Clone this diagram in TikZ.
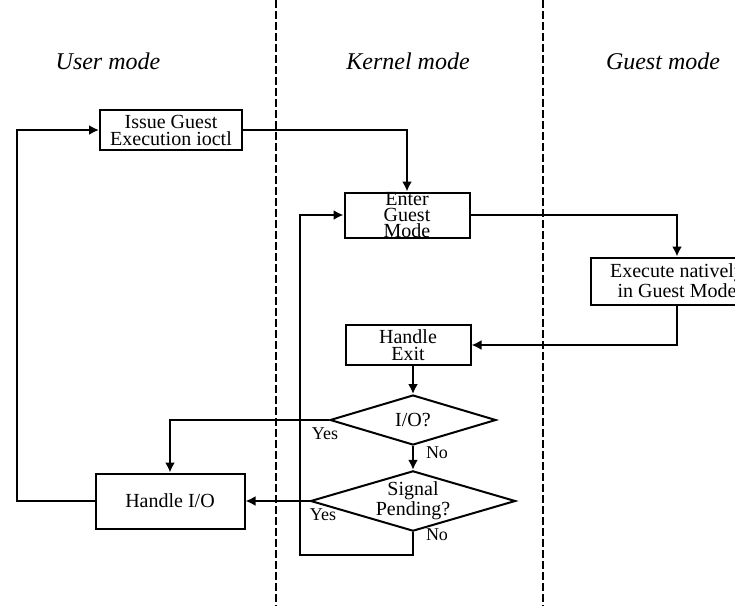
\documentclass[tikz,border=0pt]{standalone}
\usepackage{fontspec}
\setmainfont{Liberation Serif}
\usetikzlibrary{shapes.geometric,arrows.meta}
\tikzset{
  procbox/.style={draw, line width=1pt, rectangle, align=center, inner sep=0pt,
    font=\fontsize{10}{8.5}\selectfont},
  decision/.style={draw, line width=1pt, diamond, aspect=3.4, align=center, inner sep=0pt,
    font=\fontsize{10}{8}\selectfont},
  flow/.style={line width=1pt, -{Latex[length=5pt,width=5pt]}},
  modename/.style={font=\fontsize{12}{12}\selectfont\itshape},
  answer/.style={font=\fontsize{9}{9}\selectfont}
}
\begin{document}
\begin{tikzpicture}[x=0.5pt,y=-0.5pt]
\def\userkernel{(276,0) -- (276,606)}
\def\kernelguest{(543,0) -- (543,606)}
\useasboundingbox (0,0) rectangle (735,606);
\draw[line width=1.3pt, dash pattern=on 4pt off 1.5pt] \userkernel;
\draw[line width=1.3pt, dash pattern=on 4pt off 1.5pt] \kernelguest;
\node[modename] (user) at (108,61) {User mode};
\node[modename] (kernel) at (408,61) {Kernel mode};
\node[modename] (guest) at (663,61) {Guest mode};

\node[procbox, minimum width=71pt, minimum height=20pt] (issue) at (171,130) {Issue Guest\\Execution ioctl};
\node[procbox, minimum width=62.5pt, minimum height=22.5pt, font=\fontsize{10}{7.8}\selectfont] (enter) at (407,215) {Enter\\Guest\\Mode};
\node[procbox, minimum width=86pt, minimum height=23.5pt] (exec) at (677,281) {Execute natively\\in Guest Mode};
\node[procbox, minimum width=62.5pt, minimum height=20pt] (exit) at (408,345) {Handle\\Exit};
\node[decision, minimum width=83pt, minimum height=25pt] (io) at (413,420) {I/O?};
\node[decision, minimum width=94pt, minimum height=26pt] (sig) at (413,501) {Signal\\Pending?};
\node[procbox, minimum width=74.5pt, minimum height=27.5pt] (hio) at (170,501) {Handle I/O};
\coordinate (userleft) at (17,300);
\coordinate (loopcorner) at (300,555);

\draw[flow] (issue.east) -| (enter.north);
\draw[flow] (enter.east) -| (exec.north);
\draw[flow] (exec.south) |- (exit.east);
\draw[flow] (io.north |- exit.south) -- (io.north);
\draw[flow] (io.west) -| (hio.north);
\draw[flow] (io.south) -- (sig.north);
\draw[flow] (sig.west) -- (hio.east);
\draw[flow] (sig.south) |- (loopcorner) |- (enter.west);
\draw[flow] (hio.west) -| (userleft) |- (issue.west);

\node[answer] (ioyes) at (325,434) {Yes};
\node[answer] (iono) at (437,453) {No};
\node[answer] (sigyes) at (323,515) {Yes};
\node[answer] (signo) at (437,535) {No};
\end{tikzpicture}
\end{document}
